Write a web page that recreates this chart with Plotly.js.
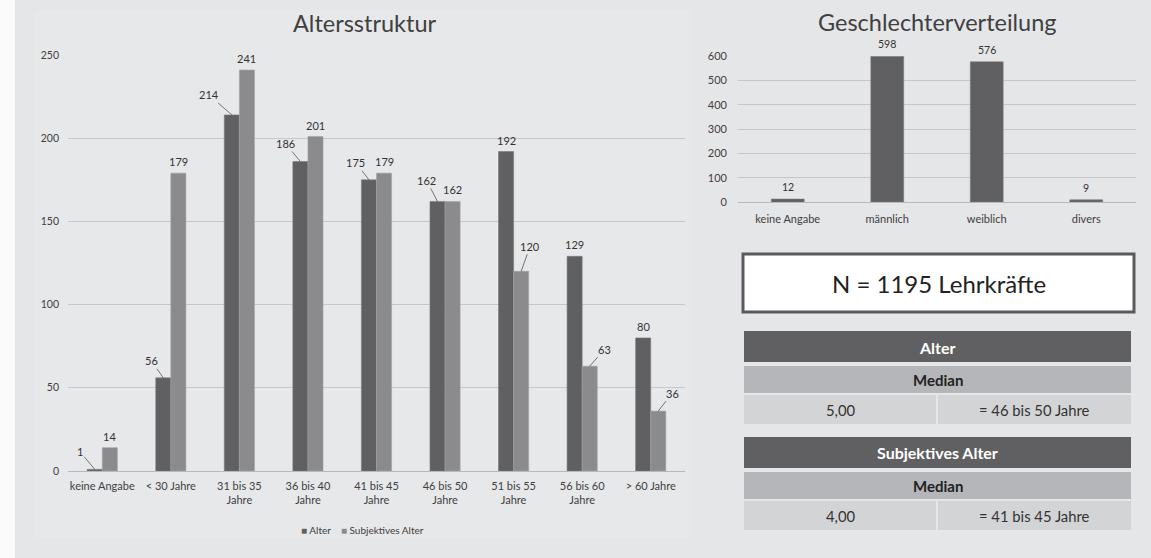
<!DOCTYPE html>
<html><head><meta charset="utf-8">
<script src="https://cdn.plot.ly/plotly-3.0.1.min.js"></script>
<style>html,body{margin:0;padding:0;background:#e6e7e9}#chart{width:1151px;height:558px}</style>
</head><body><div id="chart"></div>
<script>
// ---- data ----
const ageCategories = ['keine Angabe','< 30 Jahre','31 bis 35<br>Jahre','36 bis 40<br>Jahre','41 bis 45<br>Jahre','46 bis 50<br>Jahre','51 bis 55<br>Jahre','56 bis 60<br>Jahre','> 60 Jahre'];
const alterValues = [1,56,214,186,175,162,192,129,80];
const subjValues = [14,179,241,201,179,162,120,63,36];
const seriesNames = ['Alter','Subjektives Alter'];
const ageTicks = [0,50,100,150,200,250];
const genderCategories = ['keine Angabe','männlich','weiblich','divers'];
const genderValues = [12,598,576,9];
const genderTicks = [0,100,200,300,400,500,600];
const titles = ['Altersstruktur','Geschlechterverteilung'];
const sampleText = 'N = 1195 Lehrkräfte';
const tableHeaders = ['Alter','Subjektives Alter'];
const tableSub = ['Median','Median'];
const tableMedians = ['5,00','4,00'];
const tableMeanings = ['= 46 bis 50 Jahre','= 41 bis 45 Jahre'];

// ---- style: leader-line label offsets [ax, ay] in px (null = plain label above bar) ----
const alterOffsets = [[-15,-18],[-12,-17],[-23,-20],[-15,-18],[-13,-17],[-11,-21],null,null,null];
const subjOffsets = [null,null,null,null,null,null,[9,-25],[15,-17],[14,-18]];

const W = 1151, H = 558;
const X = p => p / W, Y = p => 1 - p / H;
const FONT = 'Lato, "Open Sans", sans-serif';
const DARK = '#606062', LIGHT = '#8b8b8e';
const half = 0.11;

const traces = [
  {type:'bar', x: ageCategories.map((c,i)=>i), y: alterValues, name: seriesNames[0], xaxis:'x', yaxis:'y',
   marker:{color:DARK, line:{color:'#7a7a7c', width:0.6}}, hoverinfo:'none', showlegend:false},
  {type:'bar', x: ageCategories.map((c,i)=>i), y: subjValues, name: seriesNames[1], xaxis:'x', yaxis:'y',
   marker:{color:LIGHT, line:{color:'#a5a5a8', width:0.6}}, hoverinfo:'none', showlegend:false},
  {type:'bar', x: genderCategories.map((c,i)=>i), y: genderValues, name:'Geschlecht', xaxis:'x2', yaxis:'y2', showlegend:false,
   width: 0.33, marker:{color:DARK, line:{color:'#7a7a7c', width:0.6}}, hoverinfo:'none'}
];

const annotations = [];
function addLabels(values, offsets, shift){
  values.forEach((v,i)=>{
    const o = offsets[i];
    if (o) {
      annotations.push({xref:'x', yref:'y', x:i+shift, y:v, text:String(v), showarrow:true, arrowhead:0,
        arrowwidth:0.8, arrowcolor:'#555', ax:o[0], ay:o[1], standoff:0,
        font:{family:FONT, size:11, color:'#333'}});
    } else {
      annotations.push({xref:'x', yref:'y', x:i+shift, y:v, text:String(v), showarrow:false,
        xanchor:'center', yanchor:'bottom', yshift:3, font:{family:FONT, size:11, color:'#333'}});
    }
  });
}
addLabels(alterValues, alterOffsets, -half);
addLabels(subjValues, subjOffsets, half);
genderValues.forEach((v,i)=>{
  annotations.push({xref:'x2', yref:'y2', x:i, y:v, text:String(v), showarrow:false,
    xanchor:'center', yanchor:'bottom', yshift:4, font:{family:FONT, size:10.5, color:'#333'}});
});

function paperText(px, py, text, size, color){
  annotations.push({xref:'paper', yref:'paper', x:X(px), y:Y(py), xanchor:'center', yanchor:'middle',
    text:text, showarrow:false, font:{family:FONT, size:size, color:color}});
}
// titles
paperText(365, 23, titles[0], 23.5, '#404040');
paperText(937, 22, titles[1], 23.5, '#404040');

// legend (compact, like the original)
paperText(362, 530, '<span style="color:'+DARK+'">■</span> '+seriesNames[0]+'    <span style="color:'+LIGHT+'">■</span> '+seriesNames[1], 10, '#404040');

const shapes = [];
// white strip on the left and faint inner panel
shapes.push({type:'rect', xref:'paper', yref:'paper', x0:0, x1:X(15), y0:0, y1:1, fillcolor:'#fbfbfb', line:{width:0}, layer:'below'});
shapes.push({type:'rect', xref:'paper', yref:'paper', x0:X(35), x1:X(692), y0:Y(538), y1:Y(10), fillcolor:'#e7e8ea', line:{width:0}, layer:'below'});

// N box
shapes.push({type:'rect', xref:'paper', yref:'paper', x0:X(743), x1:X(1134), y0:Y(254), y1:Y(312),
  fillcolor:'#ffffff', line:{color:'#5a5a5c', width:3}});
paperText(938.5, 283, sampleText, 24, '#222');

// tables
const tableTops = [331, 437];
tableTops.forEach((t,k)=>{
  shapes.push({type:'rect', xref:'paper', yref:'paper', x0:X(744), x1:X(1131), y0:Y(t), y1:Y(t+31), fillcolor:'#606062', line:{width:0}});
  shapes.push({type:'rect', xref:'paper', yref:'paper', x0:X(744), x1:X(1131), y0:Y(t+35), y1:Y(t+62), fillcolor:'#b5b6b9', line:{width:0}});
  shapes.push({type:'rect', xref:'paper', yref:'paper', x0:X(744), x1:X(936), y0:Y(t+64), y1:Y(t+93), fillcolor:'#d3d4d6', line:{width:0}});
  shapes.push({type:'rect', xref:'paper', yref:'paper', x0:X(938), x1:X(1131), y0:Y(t+64), y1:Y(t+93), fillcolor:'#d3d4d6', line:{width:0}});
  paperText(937.5, t+16, '<b>'+tableHeaders[k]+'</b>', 16, '#ffffff');
  paperText(937.5, t+49, '<b>'+tableSub[k]+'</b>', 15, '#222');
  paperText(840.5, t+79, tableMedians[k], 14.8, '#333');
  paperText(1034, t+79, tableMeanings[k], 14.8, '#333');
});

const layout = {
  width:W, height:H, margin:{l:0,r:0,t:0,b:0},
  paper_bgcolor:'#e5e6e8', plot_bgcolor:'rgba(0,0,0,0)',
  barmode:'group', bargap:0.56, bargroupgap:0,
  font:{family:FONT, color:'#404040'},
  xaxis:{domain:[X(68), X(685)], anchor:'y', range:[-0.5, 8.5], tickmode:'array',
    tickvals: ageCategories.map((c,i)=>i), ticktext: ageCategories, showgrid:false, zeroline:false,
    showline:false, ticks:'', ticklabelstandoff:7, tickfont:{family:FONT, size:11, color:'#404040'}},
  yaxis:{domain:[Y(471), Y(55)], anchor:'x', range:[0,250], tickvals:ageTicks, showgrid:true,
    gridcolor:'#c6c7c9', gridwidth:1, zeroline:true, zerolinecolor:'#b8b9bb', zerolinewidth:1,
    ticklabelstandoff:8, tickfont:{family:FONT, size:10.5, color:'#404040'}},
  xaxis2:{domain:[X(738), X(1136)], anchor:'y2', range:[-0.5, 3.5], tickmode:'array',
    tickvals: genderCategories.map((c,i)=>i), ticktext: genderCategories, showgrid:false, zeroline:false,
    ticks:'', ticklabelstandoff:9, tickfont:{family:FONT, size:11, color:'#404040'}},
  yaxis2:{domain:[Y(202), Y(56)], anchor:'x2', range:[0,600], tickvals:genderTicks, showgrid:true,
    gridcolor:'#c6c7c9', zeroline:true, zerolinecolor:'#b8b9bb', ticklabelstandoff:10,
    tickfont:{family:FONT, size:11, color:'#404040'}},
  shapes, annotations, showlegend:false
};

Plotly.newPlot('chart', traces, layout, {staticPlot:true, displayModeBar:false});
</script></body></html>
